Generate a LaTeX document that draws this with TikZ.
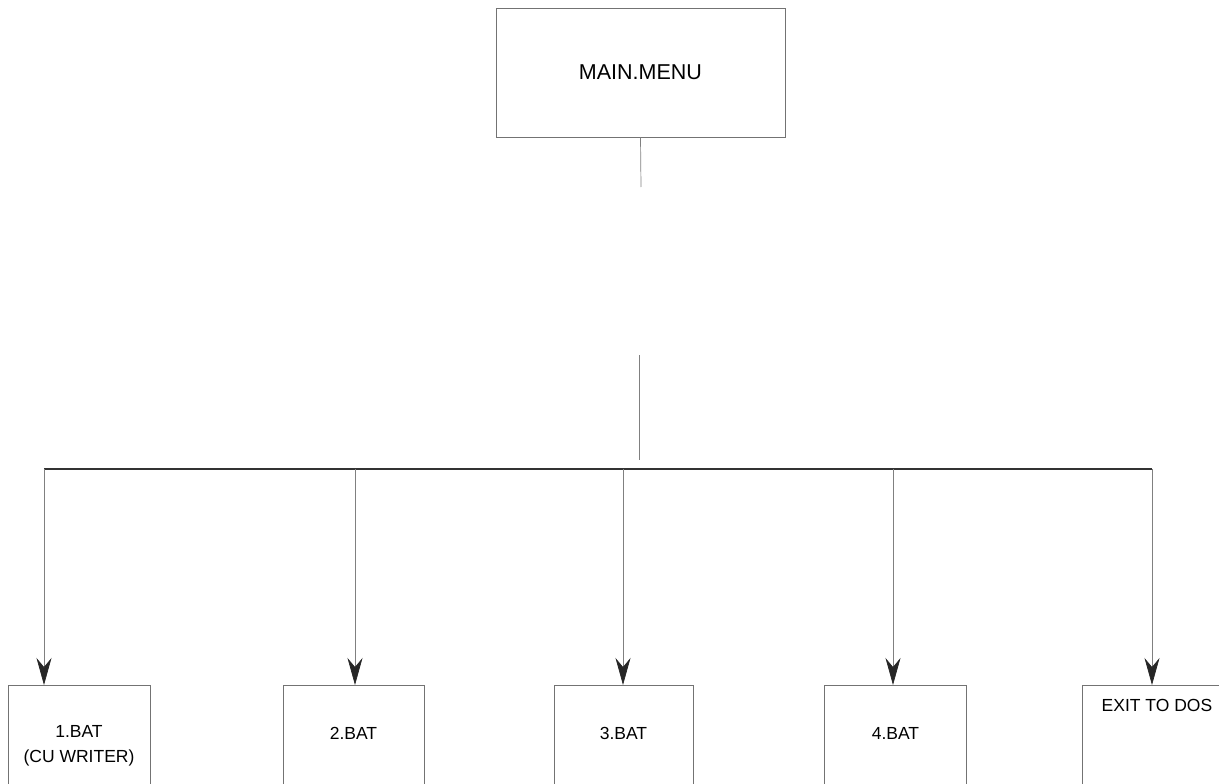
\documentclass[tikz,border=0pt]{standalone}
\usepackage{fontspec}
\setmainfont{Liberation Sans}
\usetikzlibrary{arrows.meta,calc}
\begin{document}
\begin{tikzpicture}[x=1pt,y=-1pt,
  box/.style={draw=black!55, line width=0.8pt, rectangle, inner sep=0pt},
  lbl/.style={font=\fontsize{17.5}{25}\selectfont, align=center, inner sep=0pt},
  wire/.style={draw=black!50, line width=0.7pt},
  bus/.style={draw=black!80, line width=1.3pt},
  feed/.style={wire, -{Stealth[length=27pt,width=15pt,inset=9pt,black!85,fill=black!85]}}
]
\useasboundingbox (0,0) rectangle (1219,784);
\fill[white] (0,0) rectangle (1219,784);

% top menu
\node[box, minimum width=289pt, minimum height=129pt,
      font=\fontsize{21.5}{26}\selectfont] (main) at (640.5,72.5) {MAIN.MENU};

% program boxes (their lower edges run past the page)
\node[box, anchor=north, minimum width=142pt, minimum height=110pt] (b1) at (79,685) {};
\node[box, anchor=north, minimum width=141pt, minimum height=110pt] (b2) at (353.5,685) {};
\node[box, anchor=north, minimum width=139pt, minimum height=110pt] (b3) at (623.5,685) {};
\node[box, anchor=north, minimum width=142pt, minimum height=110pt] (b4) at (895,685) {};
\node[box, anchor=north, minimum width=140pt, minimum height=110pt] (b5) at (1152,685) {};

\node[lbl] (t1) at (79,745.5) {1.BAT\\(CU WRITER)};
\node[lbl] (t2) at (353.5,733) {2.BAT};
\node[lbl] (t3) at (623.5,733) {3.BAT};
\node[lbl] (t4) at (895.5,733) {4.BAT};
\node[lbl] (t5) at (1157,705) {EXIT TO DOS};

% trunk from the menu down to the bus
\coordinate (c1) at (641,187);
\coordinate (c2) at (639,355);
\coordinate (c3) at (639,460);
\draw[wire] (main.south) -- (c1);
\draw[wire] (c2) -- (c3);

% bus and branches
\coordinate (a1) at (44,469);
\coordinate (a2) at (355,469);
\coordinate (a3) at (623,469);
\coordinate (a4) at (893,469);
\coordinate (a5) at (1152,469);
\draw[bus] (a1) -- (a5);
\draw[feed] (a1) -- (a1 |- b1.north);
\draw[feed] (a2) -- (a2 |- b2.north);
\draw[feed] (a3) -- (a3 |- b3.north);
\draw[feed] (a4) -- (a4 |- b4.north);
\draw[feed] (a5) -- (a5 |- b5.north);
\end{tikzpicture}
\end{document}
